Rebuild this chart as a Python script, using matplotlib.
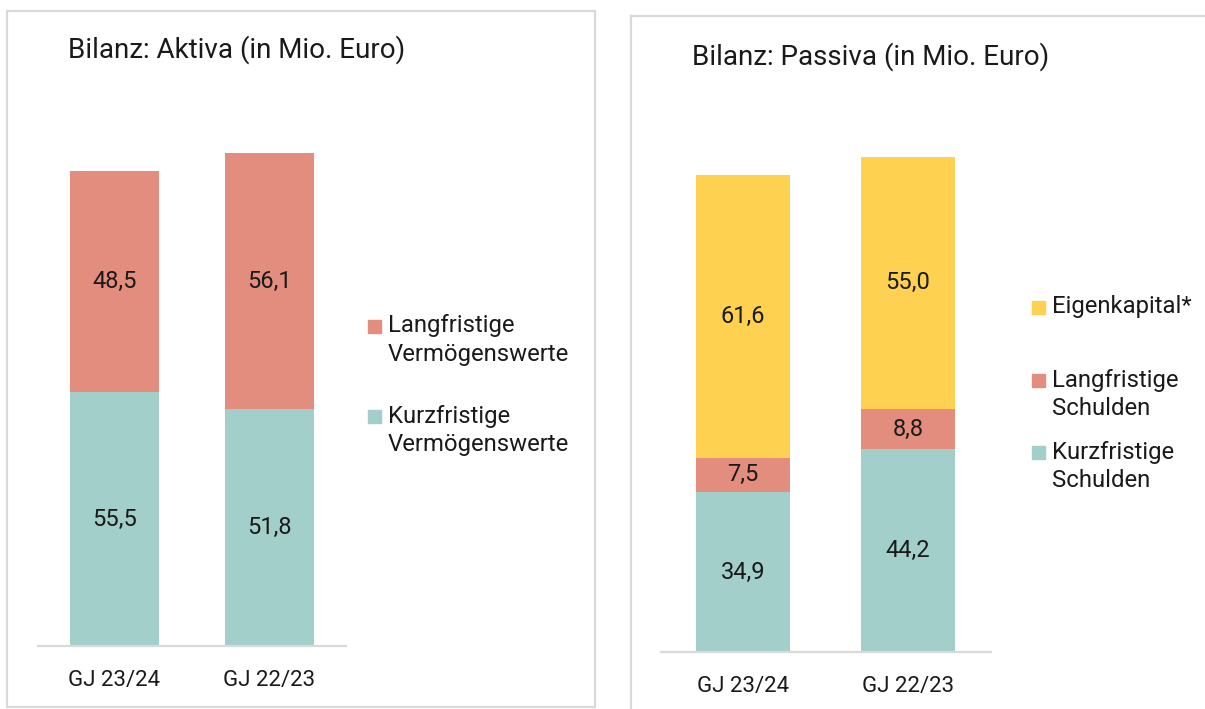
import matplotlib.pyplot as plt
from matplotlib.patches import Rectangle
from matplotlib.lines import Line2D

plt.rcParams['font.family'] = ['Roboto', 'DejaVu Sans']

# Data (Mio. Euro)
years = ["GJ 23/24", "GJ 22/23"]

aktiva_kurz = [55.5, 51.8]
aktiva_lang = [48.5, 56.1]

passiva_kurz = [34.9, 44.2]
passiva_lang = [7.5, 8.8]
passiva_ek = [61.6, 55.0]

aktiva_labels = ["Langfristige\nVermögenswerte", "Kurzfristige\nVermögenswerte"]
passiva_labels = ["Eigenkapital*", "Langfristige\nSchulden", "Kurzfristige\nSchulden"]

TEAL = "#A2CFCA"
SALMON = "#E38D7E"
YELLOW = "#FFD150"
GREY = "#D9D9D9"
TXT = "#1a1a1a"

W, H = 1205, 709
fig = plt.figure(figsize=(W / 100, H / 100), dpi=100)


# convert pixel positions (from top-left) to figure coords
def fx(x):
    return x / W


def fy(y):
    return 1 - y / H


def make_axes(left, right, base, px_per_unit, ymax=120):
    top = base - ymax * px_per_unit
    ax = fig.add_axes([fx(left), fy(base), (right - left) / W, (base - top) / H])
    ax.set_ylim(0, ymax)
    for s in ["top", "right", "left"]:
        ax.spines[s].set_visible(False)
    ax.spines["bottom"].set_color(GREY)
    ax.spines["bottom"].set_linewidth(1.6)
    ax.set_yticks([])
    ax.patch.set_alpha(0)
    return ax


def stack(ax, series, colors, width):
    x = list(range(len(years)))
    bottom = [0] * len(years)
    for vals, col in zip(series, colors):
        ax.bar(x, vals, width, bottom=bottom, color=col, edgecolor="none", zorder=2)
        for i, v in enumerate(vals):
            ax.text(x[i], bottom[i] + v / 2, f"{v:.1f}".replace(".", ","),
                    ha="center", va="center", fontsize=17, color=TXT, zorder=3)
        bottom = [b + v for b, v in zip(bottom, vals)]
    ax.set_xticks(x)
    ax.set_xticklabels(years, fontsize=16, color=TXT)
    ax.tick_params(axis="x", length=0, pad=17)


def legend(entries, x_sq, x_txt, ys, line_gap=28.5):
    for (label, col), y in zip(entries, ys):
        fig.patches.append(Rectangle((fx(x_sq), fy(y + 6.5)), 13 / W, 13 / H,
                                     transform=fig.transFigure, color=col))
        for k, line in enumerate(label.split("\n")):
            fig.text(fx(x_txt), fy(y + k * line_gap), line, ha="left", va="center",
                     fontsize=17.2, color=TXT)


# panel borders
fig.patches.append(Rectangle((fx(7), fy(707)), (595 - 7) / W, (707 - 11) / H,
                             transform=fig.transFigure, fill=False, edgecolor=GREY, lw=1.6))
fig.lines.append(Line2D([fx(631), fx(631)], [fy(16), 0], transform=fig.transFigure, color=GREY, lw=1.6))
fig.lines.append(Line2D([fx(631), 1], [fy(16), fy(16)], transform=fig.transFigure, color=GREY, lw=1.6))

# Aktiva
ax1 = make_axes(38, 346, 646, 4.57)
ax1.set_xlim(-0.495, 1.498)
stack(ax1, [aktiva_kurz, aktiva_lang], [TEAL, SALMON], 0.576)
fig.text(fx(68), fy(50), "Bilanz: Aktiva (in Mio. Euro)", ha="left", va="center",
         fontsize=20, color=TXT)
legend(list(zip(aktiva_labels, [SALMON, TEAL])), 368, 388, [326, 416])

# Passiva
ax2 = make_axes(661, 991, 652, 4.585)
ax2.set_xlim(-0.497, 1.503)
stack(ax2, [passiva_kurz, passiva_lang, passiva_ek], [TEAL, SALMON, YELLOW], 0.57)
fig.text(fx(692), fy(57), "Bilanz: Passiva (in Mio. Euro)", ha="left", va="center",
         fontsize=20, color=TXT)
legend(list(zip(passiva_labels, [YELLOW, SALMON, TEAL])), 1032, 1052, [307, 380, 452])

fig.savefig("out.png", dpi=100)
